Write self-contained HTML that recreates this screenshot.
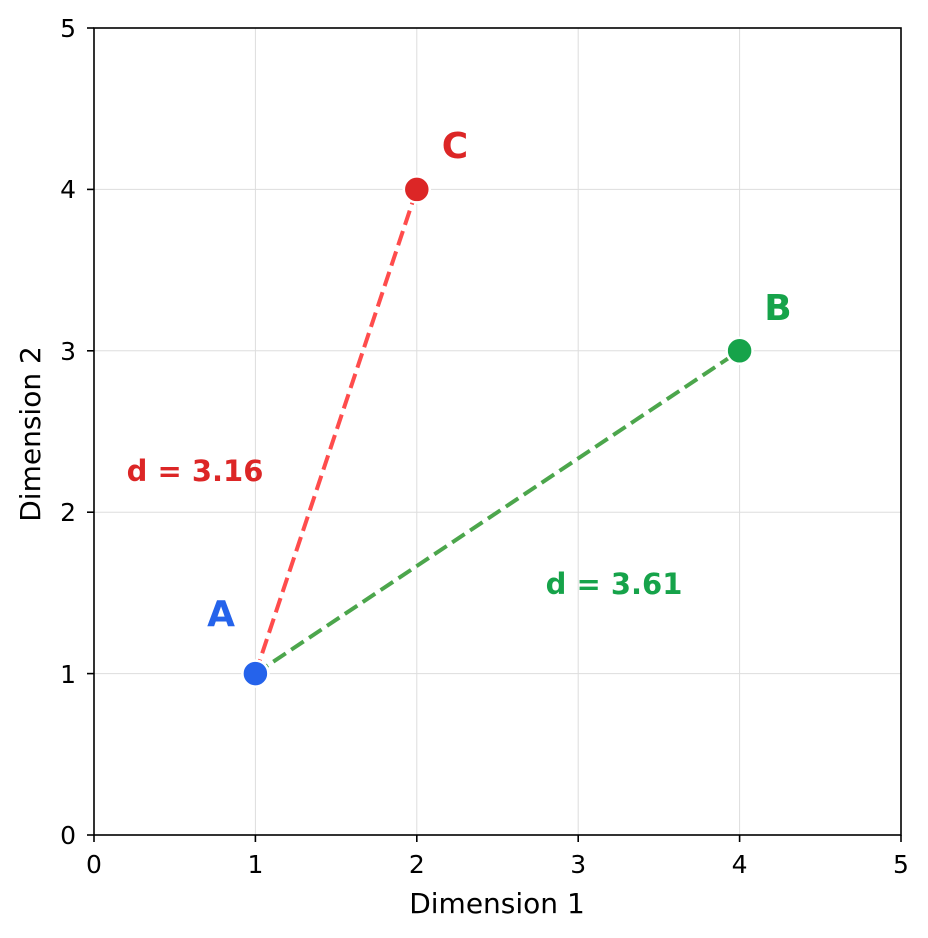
<!DOCTYPE html>
<html><head><style>body{margin:0;background:#fff}svg{display:block}text{font-family:"DejaVu Sans","Liberation Sans",sans-serif}</style></head>
<body>
<svg width="928" height="938" viewBox="0 0 928 938" xmlns="http://www.w3.org/2000/svg">
<rect width="928" height="938" fill="#fff"/>
<g stroke="#dddddd" stroke-width="1">
<line x1="255.4" y1="28" x2="255.4" y2="835"/>
<line x1="416.8" y1="28" x2="416.8" y2="835"/>
<line x1="578.2" y1="28" x2="578.2" y2="835"/>
<line x1="739.6" y1="28" x2="739.6" y2="835"/>
<line x1="94" y1="673.6" x2="901" y2="673.6"/>
<line x1="94" y1="512.2" x2="901" y2="512.2"/>
<line x1="94" y1="350.8" x2="901" y2="350.8"/>
<line x1="94" y1="189.4" x2="901" y2="189.4"/>
</g>
<line x1="255.4" y1="673.6" x2="739.6" y2="350.8" stroke="#4ca64c" stroke-width="4" stroke-dasharray="15,6.5"/>
<line x1="255.4" y1="673.6" x2="416.8" y2="189.4" stroke="#ff4c4c" stroke-width="4" stroke-dasharray="15,6.5"/>
<circle cx="255.4" cy="673.6" r="13" fill="#2563eb" stroke="#fff" stroke-width="2.5"/>
<circle cx="739.6" cy="350.8" r="13" fill="#16a34a" stroke="#fff" stroke-width="2.5"/>
<circle cx="416.8" cy="189.4" r="13" fill="#dc2626" stroke="#fff" stroke-width="2.5"/>
<text x="221" y="626" font-size="36" font-weight="bold" fill="#2563eb" text-anchor="middle">A</text>
<text x="778" y="320" font-size="36" font-weight="bold" fill="#16a34a" text-anchor="middle">B</text>
<text x="455" y="158" font-size="36" font-weight="bold" fill="#dc2626" text-anchor="middle">C</text>
<text x="195" y="481" font-size="29" font-weight="bold" fill="#dc2626" text-anchor="middle">d = 3.16</text>
<text x="614" y="594" font-size="29" font-weight="bold" fill="#16a34a" text-anchor="middle">d = 3.61</text>
<rect x="94" y="28" width="807" height="807" fill="none" stroke="#000" stroke-width="1.6"/>
<g stroke="#000" stroke-width="1.6">
<line x1="94" y1="835" x2="94" y2="842"/><line x1="255.4" y1="835" x2="255.4" y2="842"/><line x1="416.8" y1="835" x2="416.8" y2="842"/><line x1="578.2" y1="835" x2="578.2" y2="842"/><line x1="739.6" y1="835" x2="739.6" y2="842"/><line x1="901" y1="835" x2="901" y2="842"/>
<line x1="87" y1="835" x2="94" y2="835"/><line x1="87" y1="673.6" x2="94" y2="673.6"/><line x1="87" y1="512.2" x2="94" y2="512.2"/><line x1="87" y1="350.8" x2="94" y2="350.8"/><line x1="87" y1="189.4" x2="94" y2="189.4"/><line x1="87" y1="28" x2="94" y2="28"/>
</g>
<g font-size="25" fill="#000" text-anchor="middle">
<text x="94" y="873">0</text><text x="255.4" y="873">1</text><text x="416.8" y="873">2</text><text x="578.2" y="873">3</text><text x="739.6" y="873">4</text><text x="901" y="873">5</text>
</g>
<g font-size="25" fill="#000" text-anchor="end">
<text x="76" y="844">0</text><text x="76" y="683">1</text><text x="76" y="521">2</text><text x="76" y="360">3</text><text x="76" y="198">4</text><text x="76" y="37">5</text>
</g>
<text x="497" y="913" font-size="28" text-anchor="middle">Dimension 1</text>
<text transform="translate(40,434) rotate(-90)" font-size="28" text-anchor="middle">Dimension 2</text>
</svg>
</body></html>
